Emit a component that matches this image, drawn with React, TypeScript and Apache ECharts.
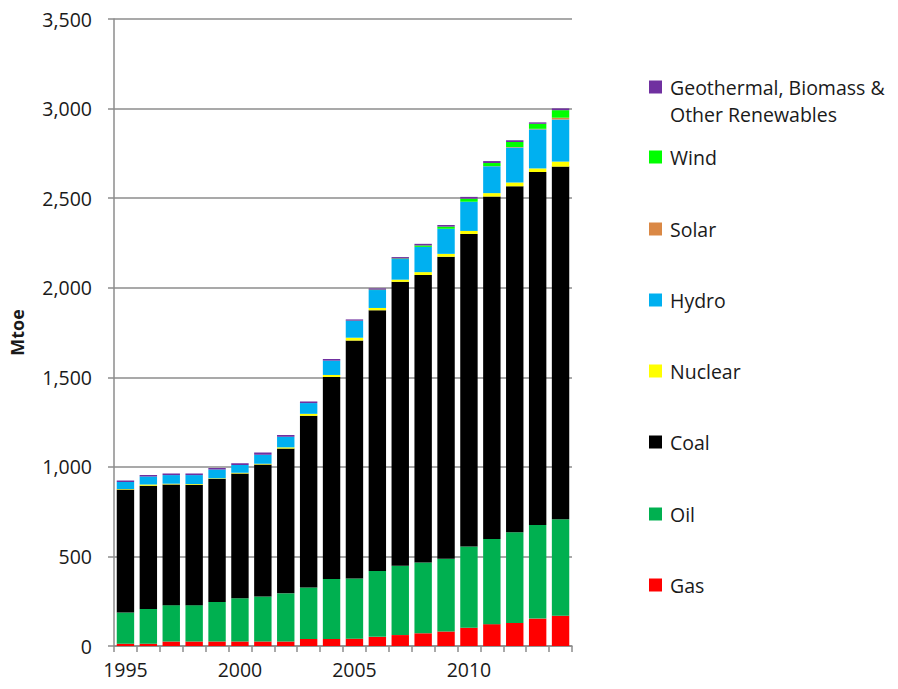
import React, { useEffect, useRef } from "react";
import * as echarts from "echarts";

const years = ["1995","1996","1997","1998","1999","2000","2001","2002","2003","2004","2005","2006","2007","2008","2009","2010","2011","2012","2013","2014"];
const gas     = [12, 12, 25, 25, 25, 25, 25, 25, 39, 39, 41, 51, 61, 71, 81, 102, 122, 128, 153, 169];
const oil     = [175, 195, 203, 203, 221, 242, 251, 269, 287, 335, 336, 367, 387, 395, 406, 454, 475, 507, 523, 538];
const coal    = [687, 687, 674, 672, 687, 696, 737, 808, 959, 1128, 1328, 1456, 1585, 1605, 1686, 1744, 1912, 1931, 1970, 1969];
const nuclear = [3, 8, 4, 4, 4, 4, 5, 7, 11, 11, 16, 13, 12, 16, 16, 17, 19, 21, 20, 28];
const hydro   = [38, 44, 48, 50, 48, 44, 50, 59, 60, 80, 94, 100, 115, 141, 140, 163, 150, 195, 218, 235];
const solar   = [0, 0, 0, 0, 0, 0, 0, 0, 0, 0, 0, 0, 0, 0, 0, 0, 1, 3, 3, 10];
const wind    = [0, 0, 0, 0, 0, 0, 0, 0, 0, 0, 1, 2, 3, 8, 12, 17, 17, 28, 28, 42];
const other   = [9, 8, 9, 9, 8, 9, 12, 10, 9, 9, 7, 7, 8, 9, 9, 10, 11, 10, 8, 10];

const seriesNames = ["Gas", "Oil", "Coal", "Nuclear", "Hydro", "Solar", "Wind", "Geothermal, Biomass & Other Renewables"];
const seriesData = [gas, oil, coal, nuclear, hydro, solar, wind, other];
const seriesColors = ["#FF0000", "#00B050", "#000000", "#FFFF00", "#00B0F0", "#DA8845", "#00FF00", "#7030A0"];
const legendCenters = [585, 514, 442, 371, 300, 229, 157, 87];

const FONT = "'Open Sans', sans-serif";

export default function App() {
  const ref = useRef<HTMLDivElement>(null);
  useEffect(() => {
    document.body.style.margin = "0";
    if (!ref.current) return;
    const chart = echarts.init(ref.current, null, { renderer: "svg" });
    const legends = seriesNames.map((name, i) => ({
      data: [name],
      orient: "vertical",
      left: 649,
      top: legendCenters[i] - 11,
      itemWidth: 13,
      itemHeight: 13,
      icon: "rect",
      selectedMode: false,
      padding: 0,
      formatter: (n: string) => (n.startsWith("Geothermal") ? "Geothermal, Biomass &" : n),
      textStyle: { fontFamily: FONT, fontSize: 19.5, lineHeight: 22, color: "#1a1a1a", padding: [0, 0, 0, 3] },
    }));
    chart.setOption({
      animation: false,
      grid: { left: 113, right: 326, top: 19, bottom: 43, containLabel: false },
      legend: legends,
      graphic: [
        {
          type: "text",
          left: 670,
          top: 104,
          style: { text: "Other Renewables", fontFamily: FONT, fontSize: 19.5, fill: "#1a1a1a" },
        },
      ],
      xAxis: {
        type: "category",
        data: years,
        axisLine: { lineStyle: { color: "#8c8c8c", width: 1.5 } },
        axisTick: { show: true, interval: 0, length: 6, lineStyle: { color: "#8c8c8c", width: 1.5 } },
        axisLabel: { interval: 4, margin: 13, fontFamily: FONT, fontSize: 19.5, color: "#1a1a1a" },
      },
      yAxis: {
        type: "value",
        min: 0,
        max: 3500,
        interval: 500,
        name: "Mtoe",
        nameLocation: "middle",
        nameGap: 88,
        nameRotate: 90,
        nameTextStyle: { fontFamily: FONT, fontSize: 18, fontWeight: "bold", color: "#1a1a1a" },
        axisLine: { show: true, lineStyle: { color: "#8c8c8c", width: 1.5 } },
        axisTick: { show: true, length: 6, lineStyle: { color: "#8c8c8c", width: 1.5 } },
        axisLabel: {
          margin: 22,
          fontFamily: FONT,
          fontSize: 19.5,
          color: "#1a1a1a",
          formatter: (v: number) => v.toLocaleString("en-US"),
        },
        splitLine: { show: true, lineStyle: { color: "#8c8c8c", width: 1.5 } },
      },
      series: seriesNames.map((name, i) => ({
        name,
        type: "bar",
        stack: "total",
        data: seriesData[i],
        barCategoryGap: "24%",
        itemStyle: { color: seriesColors[i] },
      })),
    });
    return () => chart.dispose();
  }, []);
  return <div ref={ref} style={{ width: 898, height: 689 }} />;
}
